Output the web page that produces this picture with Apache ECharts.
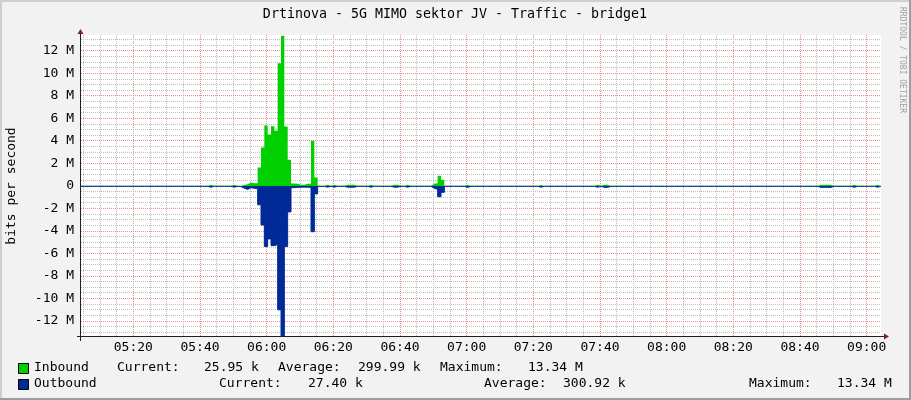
<!DOCTYPE html>
<html><head><meta charset="utf-8">
<script src="https://cdn.jsdelivr.net/npm/echarts@6/dist/echarts.min.js"></script>
<style>html,body{margin:0;padding:0;background:#F2F2F2}#c{width:911px;height:400px}</style>
</head><body><div id="c"></div>
<script>
// ---------- data ----------
const chartTitle = 'Drtinova - 5G MIMO sektor JV - Traffic - bridge1';
const yAxisName = 'bits per second';
const startMinute = 4.3;   // 05:04:18, minutes after 05:00
const endMinute = 244.3;   // 09:04:18
const stepMinutes = 1;
// Mbit/s, one value per minute
const inbound = [
 0.03,0.03,0.03,0.03,0.03,0.03,0.03,0.03,0.03,0.03,
 0.03,0.03,0.03,0.03,0.03,0.03,0.03,0.03,0.03,0.03,
 0.03,0.03,0.03,0.03,0.03,0.03,0.03,0.03,0.03,0.03,
 0.03,0.03,0.03,0.03,0.03,0.03,0.03,0.03,0.12,0.03,
 0.03,0.03,0.03,0.03,0.03,0.12,0.03,0.03,0.08,0.15,
 0.30,0.24,0.24,1.64,3.43,5.37,4.57,5.30,4.90,10.90,
 13.34,5.28,2.33,0.22,0.20,0.10,0.12,0.20,0.20,4.03,
 0.75,0.03,0.03,0.10,0.03,0.10,0.03,0.03,0.03,0.10,
 0.10,0.10,0.03,0.03,0.03,0.03,0.10,0.03,0.03,0.03,
 0.03,0.03,0.03,0.10,0.10,0.03,0.03,0.10,0.03,0.03,
 0.03,0.03,0.03,0.03,0.03,0.20,0.25,0.90,0.55,0.03,
 0.03,0.03,0.03,0.03,0.03,0.12,0.03,0.03,0.03,0.03,
 0.03,0.03,0.03,0.03,0.03,0.03,0.03,0.03,0.03,0.03,
 0.03,0.03,0.03,0.03,0.03,0.03,0.03,0.08,0.03,0.03,
 0.03,0.03,0.03,0.03,0.03,0.03,0.03,0.03,0.03,0.03,
 0.03,0.03,0.03,0.03,0.10,0.03,0.12,0.12,0.03,0.03,
 0.03,0.03,0.03,0.03,0.03,0.03,0.03,0.03,0.03,0.03,
 0.03,0.03,0.03,0.03,0.03,0.03,0.03,0.03,0.03,0.03,
 0.03,0.03,0.03,0.03,0.03,0.03,0.03,0.03,0.03,0.03,
 0.03,0.03,0.03,0.03,0.03,0.03,0.03,0.03,0.03,0.03,
 0.03,0.03,0.03,0.03,0.03,0.03,0.03,0.03,0.03,0.03,
 0.03,0.03,0.03,0.03,0.03,0.03,0.03,0.03,0.03,0.03,
 0.03,0.12,0.12,0.12,0.12,0.03,0.03,0.03,0.03,0.03,
 0.03,0.12,0.03,0.03,0.03,0.03,0.03,0.03,0.10,0.026
];
const outbound = [
 0.03,0.03,0.03,0.03,0.03,0.03,0.03,0.03,0.03,0.03,
 0.03,0.03,0.03,0.03,0.03,0.03,0.03,0.03,0.03,0.03,
 0.03,0.03,0.03,0.03,0.03,0.03,0.03,0.03,0.03,0.03,
 0.03,0.03,0.03,0.03,0.03,0.03,0.03,0.03,0.10,0.03,
 0.03,0.03,0.03,0.03,0.03,0.10,0.03,0.05,0.20,0.30,
 0.15,0.20,0.25,1.67,3.46,5.37,4.70,5.30,5.20,11.00,
 13.34,5.37,2.30,0.15,0.12,0.10,0.10,0.10,0.12,4.06,
 0.70,0.03,0.03,0.10,0.03,0.10,0.03,0.03,0.03,0.10,
 0.10,0.10,0.03,0.03,0.03,0.03,0.10,0.03,0.03,0.03,
 0.03,0.03,0.03,0.10,0.10,0.03,0.03,0.10,0.03,0.03,
 0.03,0.03,0.03,0.03,0.03,0.20,0.30,0.95,0.56,0.03,
 0.03,0.03,0.03,0.03,0.03,0.12,0.03,0.03,0.03,0.03,
 0.03,0.03,0.03,0.03,0.03,0.03,0.03,0.03,0.03,0.03,
 0.03,0.03,0.03,0.03,0.03,0.03,0.03,0.10,0.03,0.03,
 0.03,0.03,0.03,0.03,0.03,0.03,0.03,0.03,0.03,0.03,
 0.03,0.03,0.03,0.03,0.10,0.03,0.12,0.12,0.03,0.03,
 0.03,0.03,0.03,0.03,0.03,0.03,0.03,0.03,0.03,0.03,
 0.03,0.03,0.03,0.03,0.03,0.03,0.03,0.03,0.03,0.03,
 0.03,0.03,0.03,0.03,0.03,0.03,0.03,0.03,0.03,0.03,
 0.03,0.03,0.03,0.03,0.03,0.03,0.03,0.03,0.03,0.03,
 0.03,0.03,0.03,0.03,0.03,0.03,0.03,0.03,0.03,0.03,
 0.03,0.03,0.03,0.03,0.03,0.03,0.03,0.03,0.03,0.03,
 0.03,0.12,0.12,0.12,0.12,0.03,0.03,0.03,0.03,0.03,
 0.03,0.12,0.03,0.03,0.03,0.03,0.03,0.03,0.10,0.027
];
// x ticks: minutes after 05:00
const majorXTicks = [20,40,60,80,100,120,140,160,180,200,220,240];
const xTickLabels = ['05:20','05:40','06:00','06:20','06:40','07:00','07:20','07:40','08:00','08:20','08:40','09:00'];
const gridXTicks = [5,10,15,20,25,30,35,40,45,50,55,60,65,70,75,80,85,90,95,100,105,110,115,120,125,130,135,140,145,150,155,160,165,170,175,180,185,190,195,200,205,210,215,220,225,230,235,240];
const yMax = 13.42;
const majorYTicks = [-12,-10,-8,-6,-4,-2,0,2,4,6,8,10,12];
const yTickLabels = ['-12 M','-10 M','-8 M','-6 M','-4 M','-2 M','0','2 M','4 M','6 M','8 M','10 M','12 M'];
const gridYTicks = [-13,-12.5,-12,-11.5,-11,-10.5,-10,-9.5,-9,-8.5,-8,-7.5,-7,-6.5,-6,-5.5,-5,-4.5,-4,-3.5,-3,-2.5,-2,-1.5,-1,-0.5,0,0.5,1,1.5,2,2.5,3,3.5,4,4.5,5,5.5,6,6.5,7,7.5,8,8.5,9,9.5,10,10.5,11,11.5,12,12.5,13];
const legendRows = [
  [['Inbound',34],['Current:',117],['25.95 k',204],['Average:',278],['299.99 k',358],['Maximum:',440],['13.34 M',528]],
  [['Outbound',34],['Current:',219],['27.40 k',308],['Average:',484],['300.92 k',563],['Maximum:',749],['13.34 M',837]]
];
const inColor = '#00CF00', outColor = '#002A97';
const watermark = 'RRDTOOL / TOBI OETIKER';

// ---------- chart ----------
const FONT = 'DejaVu Sans Mono';
const MINOR = '#BEBEBE', MAJOR = '#EB8F8F';
function toSeries(arr, sign) {
  const d = arr.map((v, i) => [startMinute + i * stepMinutes, sign * v]);
  d.push([startMinute + arr.length * stepMinutes, sign * arr[arr.length - 1]]);
  return d;
}
const G = {left: 81, top: 35, width: 800, height: 302};
const chart = echarts.init(document.getElementById('c'), null, {renderer: 'canvas'});
const labelMap = {};
majorXTicks.forEach((t, i) => labelMap[t] = xTickLabels[i]);
const yLabelMap = {};
majorYTicks.forEach((t, i) => yLabelMap[t] = yTickLabels[i]);
const vGridData = gridXTicks.map(t => [t, majorXTicks.indexOf(t) >= 0 ? 1 : 0]);
const hGridData = gridYTicks.map(v => [majorYTicks.indexOf(v) >= 0 ? 1 : 0, v]);

const graphics = [];
graphics.push({type:'text', x:455, y:15, style:{text:chartTitle, font:'13.3px "'+FONT+'"', fill:'#000', align:'center', verticalAlign:'middle'}});
graphics.push({type:'text', x:12, y:186, rotation:Math.PI/2, style:{text:yAxisName, font:'13px "'+FONT+'"', fill:'#000', align:'center', verticalAlign:'middle'}});
graphics.push({type:'text', x:902, y:60, rotation:-Math.PI/2, style:{text:watermark, font:'8px "'+FONT+'"', fill:'#A0A0A0', align:'center', verticalAlign:'middle'}});
graphics.push({type:'rect', shape:{x:0, y:0, width:911, height:2}, style:{fill:'#CFCFCF'}, z:100});
graphics.push({type:'rect', shape:{x:0, y:0, width:2, height:400}, style:{fill:'#CFCFCF'}, z:100});
graphics.push({type:'rect', shape:{x:909, y:0, width:2, height:400}, style:{fill:'#9E9E9E'}, z:101});
graphics.push({type:'rect', shape:{x:0, y:398, width:911, height:2}, style:{fill:'#9E9E9E'}, z:101});
graphics.push({type:'line', shape:{x1:77, y1:336.5, x2:885, y2:336.5}, style:{stroke:'#1F1F1F', lineWidth:1}, z:50});
graphics.push({type:'line', shape:{x1:80.5, y1:341, x2:80.5, y2:32}, style:{stroke:'#1F1F1F', lineWidth:1}, z:50});
graphics.push({type:'polygon', shape:{points:[[884,333.5],[889,336.5],[884,339.5]]}, style:{fill:'#7F1F1F'}, z:51});
graphics.push({type:'polygon', shape:{points:[[77.5,34],[80.5,29],[83.5,34]]}, style:{fill:'#7F1F1F'}, z:51});
[inColor, outColor].forEach((c, r) => {
  graphics.push({type:'rect', shape:{x:18.5, y:363.5 + r*16, width:10, height:10}, style:{fill:c, stroke:'#000', lineWidth:1}});
});
legendRows.forEach((row, r) => row.forEach(([t, x]) => {
  graphics.push({type:'text', x:x, y:368 + r*16, style:{text:t, font:'13px "'+FONT+'"', fill:'#000', align:'left', verticalAlign:'middle'}});
}));

const option = {
  backgroundColor: '#F2F2F2',
  animation: false,
  grid: {left:G.left, top:G.top, width:G.width, height:G.height, show:true, backgroundColor:'#FFFFFF', borderWidth:0},
  xAxis: [
    {type:'value', min:startMinute, max:endMinute, axisLine:{show:false},
     axisTick:{show:false, customValues:majorXTicks},
     axisLabel:{show:true, customValues:majorXTicks, formatter:v => labelMap[v] || '', margin:4,
       fontFamily:FONT, fontSize:13, color:'#000'},
     splitLine:{show:false}}
  ],
  yAxis: [
    {type:'value', min:-yMax, max:yMax, axisLine:{show:false},
     axisTick:{show:false, customValues:majorYTicks},
     axisLabel:{show:true, customValues:majorYTicks, formatter:v => yLabelMap[v] !== undefined ? yLabelMap[v] : '', margin:7,
       fontFamily:FONT, fontSize:13, color:'#000'},
     splitLine:{show:false}}
  ],
  series: [
    {name:'vgrid', type:'custom', silent:true, z:1, data:vGridData, encode:{x:0, y:1},
     renderItem:(params, api) => {
       const cs = params.coordSys;
       const x = Math.floor(api.coord([api.value(0), 0])[0]) + 0.5;
       return {type:'line', silent:true, shape:{x1:x, y1:cs.y, x2:x, y2:cs.y + cs.height},
         style:{stroke: api.value(1) ? MAJOR : MINOR, lineWidth:1, lineDash:[1,1]}};
     }},
    {name:'hgrid', type:'custom', silent:true, z:1, data:hGridData, encode:{x:0, y:1},
     renderItem:(params, api) => {
       const cs = params.coordSys;
       const y = Math.floor(api.coord([startMinute, api.value(1)])[1]) + 0.5;
       return {type:'line', silent:true, shape:{x1:cs.x, y1:y, x2:cs.x + cs.width, y2:y},
         style:{stroke: api.value(0) ? MAJOR : MINOR, lineWidth:1, lineDash:[1,1]}};
     }},
    {name:'Inbound', type:'line', step:'end', data:toSeries(inbound, 1),
     symbol:'none', lineStyle:{width:0, color:inColor}, areaStyle:{color:inColor, opacity:1}, z:3},
    {name:'Outbound', type:'line', step:'end', data:toSeries(outbound, -1),
     symbol:'none', lineStyle:{width:1, color:outColor}, areaStyle:{color:outColor, opacity:1}, z:4}
  ],
  graphic: graphics
};
chart.setOption(option);
</script></body></html>
